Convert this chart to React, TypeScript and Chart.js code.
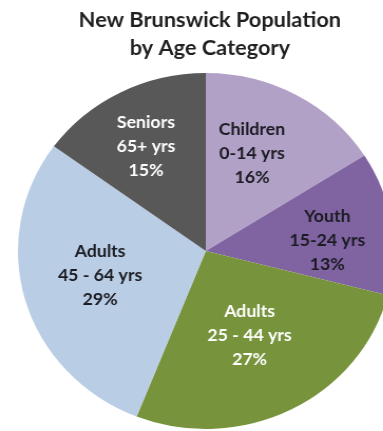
import React, { useEffect, useRef } from "react";
import { Chart, registerables } from "chart.js";

Chart.register(...registerables);

const titleLines = ["New Brunswick Population", "by Age Category"];
const categories = ["Children", "Youth", "Adults", "Adults", "Seniors"];
const ageRanges = ["0-14 yrs", "15-24 yrs", "25 - 44 yrs", "45 - 64 yrs", "65+ yrs"];
const percentages = [16, 13, 27, 29, 15];

const sliceColors = ["#b2a1c7", "#8064a2", "#77933c", "#b9cde5", "#585858"];
const labelColors = ["#1b1b22", "#1b1b22", "#ffffff", "#1b1b22", "#ffffff"];
const labelRadiusFrac = [0.6, 0.65, 0.53, 0.58, 0.67];
const labelAngleShift = [-4.6, 3.7, 0.9, 2.2, -1.4];

const STRETCH = 1.056;
const CANVAS_W = 380;
const CANVAS_H = 431;

const labelPlugin = {
  id: "sliceLabels",
  afterDatasetsDraw(chart: any) {
    const ctx = chart.ctx;
    const meta = chart.getDatasetMeta(0);
    ctx.save();
    ctx.textAlign = "center";
    ctx.textBaseline = "middle";
    ctx.font = "bold 16.8px Lato";
    meta.data.forEach((arc: any, i: number) => {
      const p = arc.getProps(["x", "y", "startAngle", "endAngle", "outerRadius"], true);
      const mid = (p.startAngle + p.endAngle) / 2 + (labelAngleShift[i] * Math.PI) / 180;
      const r = p.outerRadius * labelRadiusFrac[i];
      const cx = p.x + Math.cos(mid) * r;
      const cy = p.y + Math.sin(mid) * r;
      const lines = [categories[i], ageRanges[i], percentages[i] + "%"];
      ctx.fillStyle = labelColors[i];
      lines.forEach((t, j) => {
        ctx.fillText(t, cx, cy + (j - 1) * 24);
      });
    });
    ctx.restore();
  },
};

const titlePlugin = {
  id: "customTitle",
  afterDraw(chart: any) {
    const ctx = chart.ctx;
    ctx.save();
    ctx.textAlign = "center";
    ctx.textBaseline = "middle";
    ctx.font = "bold 20.6px Lato";
    ctx.fillStyle = "#1f1f1f";
    const x = 210 / STRETCH;
    titleLines.forEach((t, i) => ctx.fillText(t, x, 20 + i * 28));
    ctx.restore();
  },
};

export default function App() {
  const ref = useRef<HTMLCanvasElement>(null);
  useEffect(() => {
    if (!ref.current) return;
    const chart = new Chart(ref.current, {
      type: "pie",
      data: {
        labels: categories.map((c, i) => c + " " + ageRanges[i]),
        datasets: [
          {
            data: percentages,
            backgroundColor: sliceColors,
            borderWidth: 0,
          },
        ],
      },
      options: {
        responsive: false,
        animation: false,
        devicePixelRatio: 1,
        radius: 178,
        layout: { padding: { top: 73, bottom: 2, left: 17, right: 7 } },
        plugins: {
          legend: { display: false },
          title: { display: false },
          tooltip: { enabled: false },
        },
      } as any,
      plugins: [labelPlugin, titlePlugin],
    });
    return () => chart.destroy();
  }, []);
  return (
    <div
      style={{
        position: "fixed",
        left: 0,
        top: 0,
        width: 383,
        height: 431,
        overflow: "hidden",
        background: "#ffffff",
      }}
    >
      <canvas
        ref={ref}
        width={CANVAS_W}
        height={CANVAS_H}
        style={{ width: CANVAS_W * STRETCH + "px", height: CANVAS_H + "px", display: "block" }}
      />
    </div>
  );
}
